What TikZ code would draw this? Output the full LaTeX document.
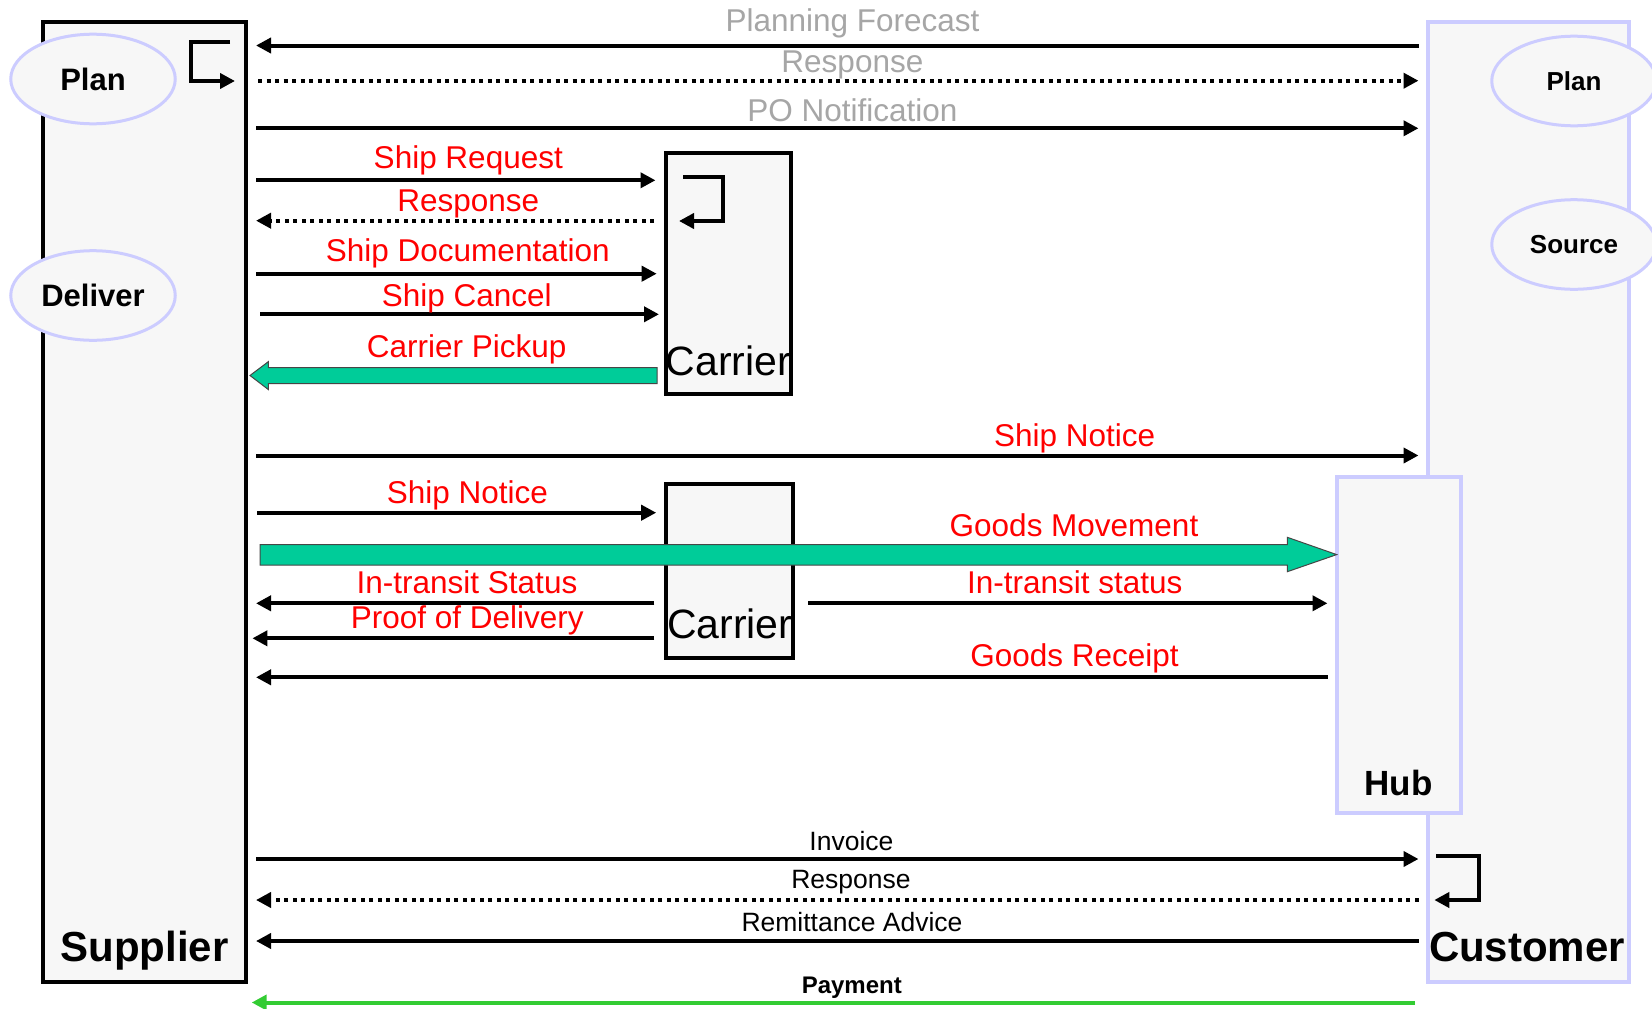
\documentclass[tikz,border=0pt]{standalone}
\usepackage{fontspec}
\setmainfont{Liberation Sans}
\usetikzlibrary{arrows.meta,shapes.geometric}
\definecolor{boxfill}{RGB}{247,247,247}
\definecolor{lav}{RGB}{204,204,255}
\definecolor{lblgray}{RGB}{166,166,166}
\definecolor{gmove}{RGB}{0,204,153}
\definecolor{paygreen}{RGB}{51,204,51}
\begin{document}
\begin{tikzpicture}[x=1pt,y=-1pt,
  lifeblk/.style={rectangle,draw=black,line width=4pt,fill=boxfill,inner sep=0pt},
  lifelav/.style={rectangle,draw=lav,line width=4pt,fill=boxfill,inner sep=0pt},
  role/.style={ellipse,draw=lav,line width=3pt,fill=boxfill,inner sep=0pt,
    minimum width=164.5pt,minimum height=89.6pt},
  msg/.style={line width=4pt,-{Triangle[length=15pt,width=15pt]}},
  msgdot/.style={msg,dash pattern=on 4pt off 4.5pt},
  loopline/.style={line width=4pt,miter limit=4,-{Triangle[length=15pt,width=15pt]}},
  bigarrow/.style={fill=gmove,draw={rgb,255:red,70;green,70;blue,70},line width=1pt,line join=miter},
  lg/.style={anchor=base,inner sep=0pt,text=lblgray,font=\fontsize{31.5}{36}\selectfont},
  lr/.style={anchor=base,inner sep=0pt,text=red,font=\fontsize{31.5}{36}\selectfont},
  lb/.style={anchor=base,inner sep=0pt,text=black,font=\fontsize{26.5}{30}\selectfont},
  ttl/.style={anchor=base,inner sep=0pt,font=\bfseries\fontsize{42}{48}\selectfont},
]
\useasboundingbox (0,0) rectangle (1652,1009);
\fill[white] (0,0) rectangle (1652,1009);

% lifelines
\node[lifeblk,minimum width=202.5pt,minimum height=959.5pt] (sup) at (144.25,501.75) {};
\node[lifelav,minimum width=201pt,minimum height=960pt] (cust) at (1528.5,502) {};
\node[lifelav,minimum width=123.5pt,minimum height=336pt] (hub) at (1398.75,644.5) {};
\node[lifeblk,minimum width=124.4pt,minimum height=241.3pt] (car1) at (728.5,273.3) {};
\node[lifeblk,minimum width=127.2pt,minimum height=173.8pt] (car2) at (729.4,570.6) {};

% titles
\node[ttl] (supT) at (144.5,961.7) {Supplier};
\node[ttl] (custT) at (1527,961.7) {Customer};
\node[anchor=base,inner sep=0pt,font=\bfseries\fontsize{35}{40}\selectfont] (hubT) at (1398.7,795) {Hub};
\node[anchor=base,inner sep=0pt,font=\fontsize{41}{46}\selectfont] (car1T) at (728.5,375) {Carrier};
\node[anchor=base,inner sep=0pt,font=\fontsize{41}{46}\selectfont] (car2T) at (729.7,638.5) {Carrier};

% role ellipses
\node[role,font=\bfseries\fontsize{31}{36}\selectfont] (splan) at (93,79) {Plan};
\node[role,font=\bfseries\fontsize{31}{36}\selectfont] (sdel) at (93,295.5) {Deliver};
\node[role,font=\bfseries\fontsize{26}{30}\selectfont] (cplan) at (1574,81) {Plan};
\node[role,font=\bfseries\fontsize{26}{30}\selectfont] (csrc) at (1574,244.5) {Source};

% lane x positions
\coordinate (sL) at (256,0);
\coordinate (cR) at (1418.5,0);
\coordinate (kL) at (655.5,0);
\coordinate (kR) at (808,0);
\coordinate (hL) at (1327.5,0);

% self loops
\draw[loopline] (230,42) -- (191,42) -- (191,81) -- (235,81);
\draw[loopline] (683,177) -- (722.5,177) -- (722.5,221) -- (679,221);
\draw[loopline] (1436,856) -- (1478.5,856) -- (1478.5,900) -- (1434.3,900);

% planning messages
\draw[msg] (cR |- 0,45.5) -- (sL |- 0,45.5);
\node[lg] (t1) at (852.5,31.6) {Planning Forecast};
\draw[msgdot] (258,80.7) -- (cR |- 0,80.7);
\node[lg] (t2) at (852.4,72.7) {Response};
\draw[msg] (sL |- 0,128.3) -- (cR |- 0,128.3);
\node[lg] (t3) at (852.4,121.5) {PO Notification};

% carrier 1
\draw[msg] (sL |- 0,180.3) -- (kL |- 0,180.3);
\node[lr] (t4) at (468.3,168.3) {Ship Request};
\draw[msgdot] (654,220.7) -- (sL |- 0,220.7);
\node[lr] (t5) at (468.3,211.8) {Response};
\draw[msg] (sL |- 0,273.7) -- (656.7,273.7);
\node[lr] (t6) at (467.8,261.7) {Ship Documentation};
\draw[msg] (260,314.3) -- (659,314.3);
\node[lr] (t7) at (466.7,306.7) {Ship Cancel};
\draw[bigarrow] (657,367.5) -- (268.3,367.5) -- (268.3,361.7) -- (250,375.5) -- (268.3,389.5) -- (268.3,383.5) -- (657,383.5) -- cycle;
\node[lr] (t8) at (466.7,357) {Carrier Pickup};

% ship notice to customer
\draw[msg] (sL |- 0,455.5) -- (cR |- 0,455.5);
\node[lr] (t9) at (1074.7,446.5) {Ship Notice};

% carrier 2
\draw[msg] (257.4,512.7) -- (656.2,512.7);
\node[lr] (t10) at (467.5,503.5) {Ship Notice};
\draw[bigarrow] (260,544.5) -- (1287.3,544.5) -- (1287.3,537.3) -- (1336.7,554.6) -- (1287.3,571.7) -- (1287.3,565) -- (260,565) -- cycle;
\node[lr] (t11) at (1074,536.5) {Goods Movement};
\draw[msg] (654.3,603.3) -- (sL |- 0,603.3);
\node[lr] (t12) at (467,593.3) {In-transit Status};
\draw[msg] (654.3,638.3) -- (252.4,638.3);
\node[lr] (t13) at (467.3,628.3) {Proof of Delivery};
\draw[msg] (kR |- 0,603.3) -- (hL |- 0,603.3);
\node[lr] (t14) at (1074.7,593.3) {In-transit status};
\draw[msg] (hL |- 0,677.3) -- (sL |- 0,677.3);
\node[lr] (t15) at (1074.6,666.8) {Goods Receipt};

% settlement
\draw[msg] (sL |- 0,859) -- (cR |- 0,859);
\node[lb] (t16) at (851.4,850) {Invoice};
\draw[msgdot] (cR |- 0,900) -- (sL |- 0,900);
\node[lb] (t17) at (851,888.3) {Response};
\draw[msg] (cR |- 0,941) -- (sL |- 0,941);
\node[lb] (t18) at (852,931.8) {Remittance Advice};
\draw[msg,draw=paygreen,fill=paygreen] (1415,1002.5) -- (251.7,1002.5);
\node[anchor=base,inner sep=0pt,font=\bfseries\fontsize{24}{28}\selectfont] (t19) at (851.8,993.2) {Payment};
\end{tikzpicture}
\end{document}
